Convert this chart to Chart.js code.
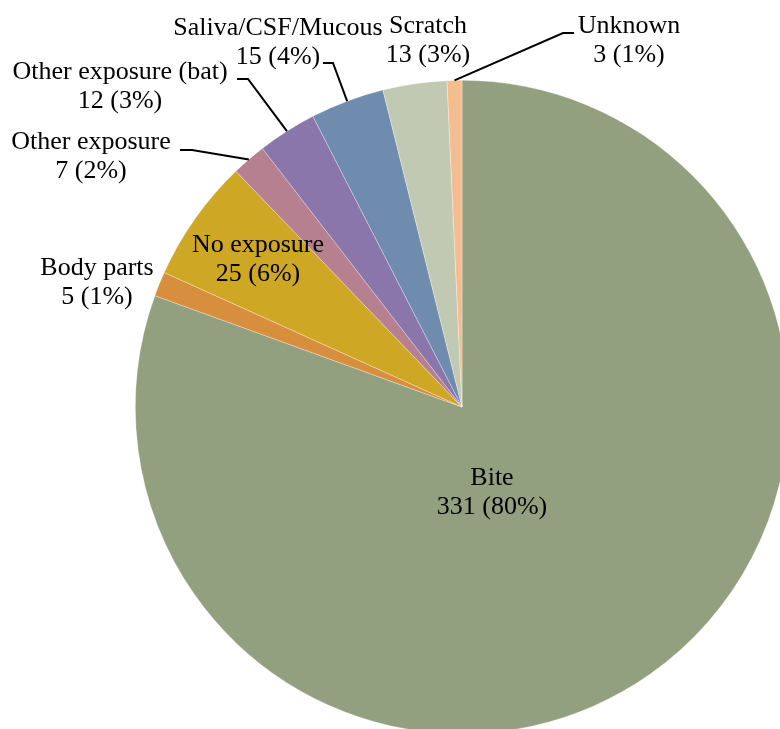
<!DOCTYPE html>
<html>
<head>
<meta charset="utf-8">
<script src="https://cdn.jsdelivr.net/npm/chart.js@4.4.1/dist/chart.umd.min.js"></script>
<style>
  html, body { margin: 0; padding: 0; background: #ffffff; overflow: hidden; width: 780px; height: 729px; }
  #wrap { position: absolute; left: 0; top: 0; width: 800px; height: 740px; }
</style>
</head>
<body>
<div id="wrap"><canvas id="c" width="800" height="740"></canvas></div>
<script>
// ---- data ----
const categories = ['Bite', 'Body parts', 'No exposure', 'Other exposure', 'Other exposure (bat)', 'Saliva/CSF/Mucous', 'Scratch', 'Unknown'];
const counts = [331, 5, 25, 7, 12, 15, 13, 3];
const percentLabels = ['80%', '1%', '6%', '2%', '3%', '4%', '3%', '1%'];

// ---- styles ----
const sliceColors = ['#93A07F', '#D78F3D', '#CEA724', '#B78090', '#8A76AA', '#6F8BAD', '#C1C9B3', '#F4BD8F'];
const FONT = '26px "Liberation Serif", "Times New Roman", serif';
const LINE_GAP = 29;

// label placement: text centre x and first-line baseline; optional leader elbow/end
const labelPlacement = [
  { x: 492, y: 485 },
  { x: 97,  y: 275 },
  { x: 258, y: 252 },
  { x: 91,  y: 149, elbow: [192, 150], end: [180, 150] },
  { x: 120, y: 79,  elbow: [248, 79],  end: [237, 79] },
  { x: 278, y: 35,  elbow: [333, 63],  end: [323, 63] },
  { x: 428, y: 33 },
  { x: 629, y: 33,  elbow: [563, 33],  end: [574, 33] }
];

const labelPlugin = {
  id: 'pieLabels',
  afterDatasetsDraw(chart) {
    const ctx = chart.ctx;
    const meta = chart.getDatasetMeta(0);
    ctx.save();
    ctx.font = FONT;
    ctx.fillStyle = '#000000';
    ctx.textAlign = 'center';
    ctx.textBaseline = 'alphabetic';
    meta.data.forEach((arc, i) => {
      const p = labelPlacement[i];
      if (p.elbow) {
        const mid = (arc.startAngle + arc.endAngle) / 2;
        const sx = arc.x + Math.cos(mid) * arc.outerRadius;
        const sy = arc.y + Math.sin(mid) * arc.outerRadius;
        ctx.beginPath();
        ctx.strokeStyle = '#000000';
        ctx.lineWidth = 2;
        ctx.moveTo(sx, sy);
        ctx.lineTo(p.elbow[0], p.elbow[1]);
        ctx.lineTo(p.end[0], p.end[1]);
        ctx.stroke();
      }
      ctx.fillText(categories[i], p.x, p.y);
      ctx.fillText(counts[i] + ' (' + percentLabels[i] + ')', p.x, p.y + LINE_GAP);
    });
    ctx.restore();
  }
};

new Chart(document.getElementById('c'), {
  type: 'pie',
  data: {
    labels: categories,
    datasets: [{
      data: counts,
      backgroundColor: sliceColors,
      borderColor: 'rgba(255,255,255,0.5)',
      borderWidth: 0.6
    }]
  },
  options: {
    responsive: false,
    animation: false,
    layout: { padding: { left: 135, top: 80, right: 11, bottom: 6 } },
    plugins: {
      legend: { display: false },
      tooltip: { enabled: false },
      title: { display: false }
    }
  },
  plugins: [labelPlugin]
});
</script>
</body>
</html>
